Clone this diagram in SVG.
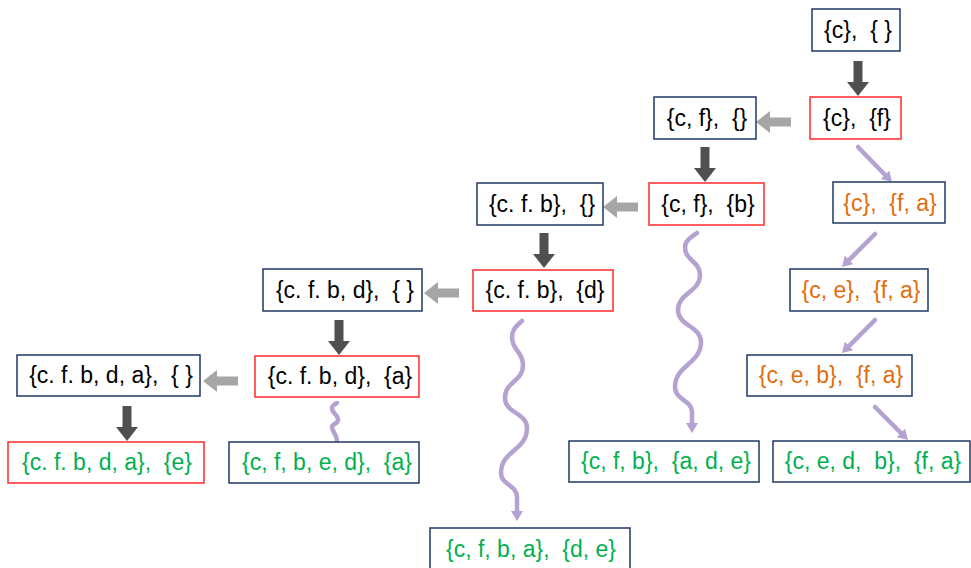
<svg xmlns="http://www.w3.org/2000/svg" width="971" height="568" viewBox="0 0 971 568">
<style>
  .box { fill: #fff; stroke-width: 1.5; }
  .nv { stroke: #1F3864; }
  .rd { stroke: #FF2A2A; }
  text { font-family: "Liberation Sans", Arial, sans-serif; font-size: 23px; text-anchor: middle; white-space: pre; }
  .k { fill: #000; }
  .o { fill: #E46C0A; }
  .g { fill: #00B050; }
  .dk { fill: #505050; }
  .lt { fill: #A6A6A6; }
  .pl { fill: none; stroke: #B4A3D0; stroke-width: 4.5; stroke-linecap: round; marker-end: url(#ph); }
</style>
<defs>
  <path id="blk" d="M-4.5,0 H4.5 V21 H11 L0,35 L-11,21 H-4.5 Z"/>
  <marker id="ph" viewBox="0 0 10 12" refX="4" refY="6" markerWidth="10" markerHeight="12" markerUnits="userSpaceOnUse" orient="auto">
    <path d="M0,0 L10,6 L0,12 Z" fill="#B4A3D0"/>
  </marker>
</defs>

<g id="connectors">
  <use href="#blk" class="dk" transform="translate(858,61)"/>
  <use href="#blk" class="dk" transform="translate(705,147)"/>
  <use href="#blk" class="dk" transform="translate(544,233)"/>
  <use href="#blk" class="dk" transform="translate(339,320)"/>
  <use href="#blk" class="dk" transform="translate(127,406)"/>
  <use href="#blk" class="lt" transform="translate(791,122) rotate(90)"/>
  <use href="#blk" class="lt" transform="translate(638,207) rotate(90)"/>
  <use href="#blk" class="lt" transform="translate(459,293) rotate(90)"/>
  <use href="#blk" class="lt" transform="translate(238,381) rotate(90)"/>
  <path class="pl" d="M858,147 L887.8,177.7"/>
  <path class="pl" d="M875,234 L846.2,262.8"/>
  <path class="pl" d="M875,320 L846.2,348.8"/>
  <path class="pl" d="M875,407 L903.8,435.8"/>
  <path class="pl" d="M697,233 C690,238 685,241 685,247 C685,261 700,261 700,275 C700,292 678,293 678,310 C678,326 701,326 701,342 C701,364 675,365 675,387 C675,400 692,400 692,412 L692,427"/>
  <path class="pl" d="M522,321 C516,326 512,330 512,337 C512,351 523,351 523,365 C523,382 505,381 505,398 C505,413 527,413 527,428 C527,451 501,450 501,473 C501,485 517,485 517,497 L517,515"/>
  <path d="M337,403 C333,405 332,406 332,408 C332,414 338,414 338,420 C338,424 332,424 332,427 C332,432 337,434 337,441" fill="none" stroke="#B4A3D0" stroke-width="4.5" stroke-linecap="round"/>
</g>

<g id="n1"><rect class="box nv" x="812" y="9" width="88" height="42"/><text class="k" x="858" y="38">{c},  { }</text></g>
<g id="n2"><rect class="box rd" x="810" y="97" width="91" height="42"/><text class="k" x="857" y="126">{c},  {f}</text></g>
<g id="n3"><rect class="box nv" x="654" y="97" width="102" height="42"/><text class="k" x="707" y="126">{c, f},  {}</text></g>
<g id="n4"><rect class="box rd" x="649" y="183" width="115" height="42"/><text class="k" x="708" y="212">{c, f},  {b}</text></g>
<g id="n5"><rect class="box nv" x="833" y="182" width="112" height="41"/><text class="o" x="890" y="211">{c},  {f, a}</text></g>
<g id="n6"><rect class="box nv" x="477" y="183" width="126" height="42"/><text class="k" x="542" y="212">{c. f. b},  {}</text></g>
<g id="n7"><rect class="box rd" x="473" y="270" width="140" height="41"/><text class="k" x="545" y="298">{c. f. b},  {d}</text></g>
<g id="n8"><rect class="box nv" x="263" y="269" width="159" height="42"/><text class="k" x="345" y="298">{c. f. b, d},  { }</text></g>
<g id="n9"><rect class="box rd" x="255" y="356" width="164" height="41"/><text class="k" x="340" y="384">{c. f. b, d},  {a}</text></g>
<g id="n10"><rect class="box nv" x="17" y="355" width="183" height="41"/><text class="k" x="111" y="383">{c. f. b, d, a},  { }</text></g>
<g id="n11"><rect class="box rd" x="8" y="442" width="196" height="41"/><text class="g" x="107" y="470">{c. f. b, d, a},  {e}</text></g>
<g id="n12"><rect class="box nv" x="229" y="442" width="190" height="41"/><text class="g" x="327" y="470">{c, f, b, e, d},  {a}</text></g>
<g id="n13"><rect class="box nv" x="430" y="528" width="200" height="42"/><text class="g" x="531" y="557">{c, f, b, a},  {d, e}</text></g>
<g id="n14"><rect class="box nv" x="569" y="441" width="190" height="41"/><text class="g" x="666" y="469">{c, f, b},  {a, d, e}</text></g>
<g id="n15"><rect class="box nv" x="773" y="441" width="197" height="41"/><text class="g" x="873" y="469">{c, e, d,  b},  {f, a}</text></g>
<g id="n16"><rect class="box nv" x="747" y="355" width="165" height="41"/><text class="o" x="831" y="383">{c, e, b},  {f, a}</text></g>
<g id="n17"><rect class="box nv" x="790" y="269" width="138" height="42"/><text class="o" x="861" y="298">{c, e},  {f, a}</text></g>
</svg>
